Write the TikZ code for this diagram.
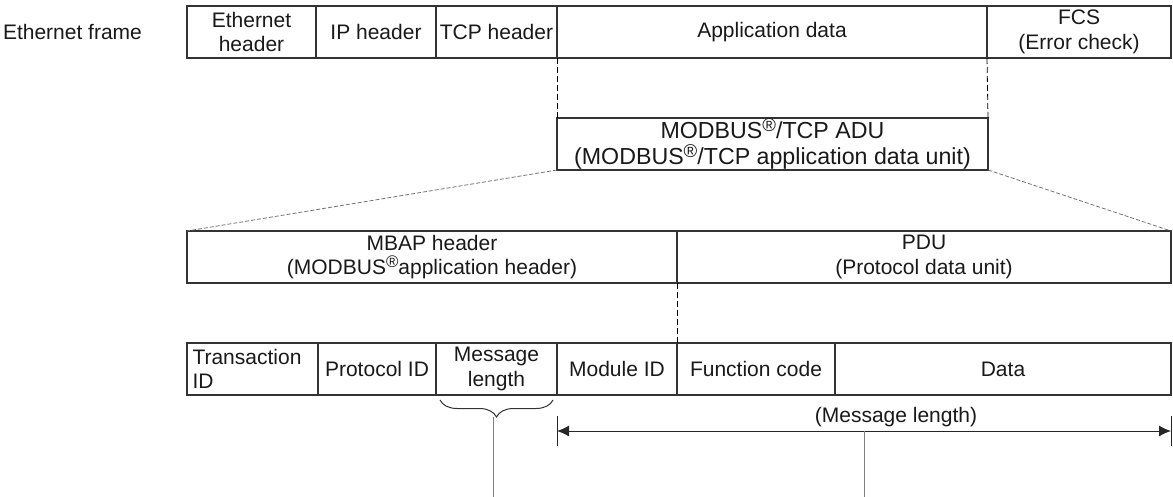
\documentclass[tikz,border=0pt]{standalone}
\usepackage{fontspec}
\setmainfont{Liberation Sans}
\usepackage{tikz}
\usetikzlibrary{calc,decorations.pathreplacing,arrows.meta}
\usetikzlibrary{positioning}

\newcommand{\regmark}{\raisebox{0.6ex}{\scalebox{0.8}{\textregistered}}}

\begin{document}
\begin{tikzpicture}[x=0.5pt,y=-0.5pt,
    field/.style={rectangle,draw=black!80, line width=0.7pt, inner sep=0pt, outer sep=0pt, minimum height=26pt, align=center, anchor=north west},
    guide/.style={draw=black, dashed, dash pattern=on 3pt off 1.5pt, line width=0.4pt},
    spread/.style={draw=black!55, dash pattern=on 2pt off 1pt, line width=0.4pt},
    lead/.style={draw=black!50, line width=0.5pt},
    every node/.style={font=\fontsize{10.5}{12.2}\selectfont, text=black!90}
    ]
    \useasboundingbox (0,0) rectangle (1173,497);

    \def\framefields{eth/129/{Ethernet\\header}, ip/120/IP header, tcp/121/TCP header, app/430/Application data, fcs/184/{FCS\\(Error check)}}
    \def\mbapfields{mbap/490/{MBAP header\\(MODBUS\regmark application header)}, pdu/494/{PDU\\(Protocol data unit)}}
    \def\msgfields{tid/131/{Transaction\\ID}, pid/118/Protocol ID, len/121/{Message\\length}, mid/120/Module ID, fc/158/Function code, data/336/Data}

    % ethernet frame
    \foreach \name/\w/\txt [count=\i from 0, remember=\name as \prev] in \framefields {
        \ifnum \i = 0
        \node[field, minimum width=\w*0.5pt] (\name) at (187,6) {\txt};
        \else
        \node[field, minimum width=\w*0.5pt, right=0pt of \prev] (\name) {\txt};
        \fi
    }
    \node[left=19pt of eth] (framelbl) {Ethernet frame};

    % application data unit
    \node[field, minimum width=431*0.5pt, font=\fontsize{11.6}{13}\selectfont] (adu) at (557,118) {MODBUS\regmark/TCP ADU\\(MODBUS\regmark/TCP application data unit)};

    % header + pdu
    \foreach \name/\w/\txt [count=\i from 0, remember=\name as \prev] in \mbapfields {
        \ifnum \i = 0
        \node[field, minimum width=\w*0.5pt] (\name) at (187,231) {\txt};
        \else
        \node[field, minimum width=\w*0.5pt, right=0pt of \prev] (\name) {\txt};
        \fi
    }

    % message fields
    \foreach \name/\w/\txt [count=\i from 0, remember=\name as \prev] in \msgfields {
        \ifnum \i = 0
        \node[field, minimum width=\w*0.5pt, align=left, text width=60pt] (\name) at (187,343) {\txt};
        \else
        \node[field, minimum width=\w*0.5pt, right=0pt of \prev] (\name) {\txt};
        \fi
    }

    \path[every edge/.style={guide}]
    (tcp.south east) edge (adu.north west)
    (app.south east) edge (adu.north east)
    (mbap.south east) edge (mid.north east)
    ;
    \path[every edge/.style={spread}]
    (adu.south west) edge (mbap.north west)
    (adu.south east) edge (pdu.north east)
    ;

    % brace under message length
    \draw[black!80, line width=0.5pt, decorate, decoration={brace, mirror, amplitude=8.5pt}]
    ($(len.south west)+(4,5)$) -- ($(len.south east)+(-4,5)$);
    \coordinate (brtip) at ($(len.south)+(-3,22)$);
    \coordinate (brend) at (brtip |- 0,497);
    \draw[lead] (brtip) -- (brend);

    % length span
    \coordinate (arl) at ($(mid.south west)+(0,36)$);
    \coordinate (arr) at ($(data.south east)+(0,36)$);
    \draw[black!85, line width=0.5pt] ($(arl)+(0,-15)$) -- ($(arl)+(0,15)$);
    \draw[black!85, line width=0.5pt] ($(arr)+(0,-15)$) -- ($(arr)+(0,15)$);
    \draw[{Latex[length=6pt,width=5.5pt]}-{Latex[length=6pt,width=5.5pt]}, black!85, line width=0.5pt]
    (arl) -- (arr) node[midway, above, xshift=16pt, inner sep=2pt] (lenlbl) {(Message length)};
    \coordinate (armid) at ($(arl)!0.5!(arr)$);
    \coordinate (arend) at (armid |- 0,497);
    \draw[lead] (armid) -- (arend);

\end{tikzpicture}
\end{document}
